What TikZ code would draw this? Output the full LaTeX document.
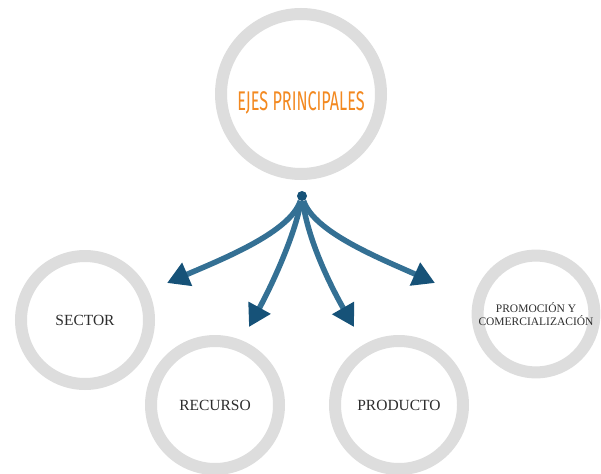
\documentclass[tikz,border=0pt]{standalone}
\usepackage{fontspec}
\usepackage{xcolor}
\usetikzlibrary{arrows.meta}
\setmainfont{Liberation Serif}
\newfontfamily\ejesfont{Fira Sans}[FakeStretch=0.6]
\definecolor{ringgray}{RGB}{221,221,221}
\definecolor{ejesorange}{RGB}{243,137,32}
\definecolor{arrowline}{RGB}{52,112,148}
\definecolor{arrowtip}{RGB}{22,82,120}
\definecolor{labelgray}{RGB}{45,45,45}

\begin{document}
\begin{tikzpicture}[
  x=1pt, y=-1pt,
  font=\fontsize{15.5}{17}\selectfont,
  ring/.style={circle, draw=ringgray, line width=12pt, fill=white, align=center, text=labelgray, inner sep=0pt},
  arr/.style={-{Triangle[length=22pt, width=24pt, color=arrowtip]}, line width=5.5pt, draw=arrowline},
  hubdot/.style={circle, fill=arrowtip, inner sep=0pt, minimum size=10pt}]
\useasboundingbox (0,0) rectangle (601,473);
% --- main circle ---
\node[ring, minimum size=160pt, font=\ejesfont\fontsize{27}{29}\selectfont, text=ejesorange] (ejes) at (301,94)
  {\raisebox{-17pt}[0pt][0pt]{EJES PRINCIPALES}};
\node[hubdot] (hub) at (302,196) {};
% --- axes ---
\node[ring, minimum size=128pt] (sector) at (85,320) {SECTOR};
\node[ring, minimum size=128pt] (recurso) at (215,405) {RECURSO};
\node[ring, minimum size=128pt] (producto) at (399,405) {PRODUCTO};
\node[ring, minimum size=116pt, font=\fontsize{11.5}{13}\selectfont] (promo) at (536,314)
  {PROMOCIÓN Y\\COMERCIALIZACIÓN};
% --- arrows ---
\coordinate (tipsector) at (167,283);
\coordinate (tiprecurso) at (249,327);
\coordinate (tipproducto) at (354,327);
\coordinate (tippromo) at (435,283);
\draw[arr] (hub) .. controls (290,232) and (225,258) .. (tipsector);
\draw[arr] (hub) .. controls (295,235) and (272,285) .. (tiprecurso);
\draw[arr] (hub) .. controls (308,240) and (330,285) .. (tipproducto);
\draw[arr] (hub) .. controls (314,232) and (379,258) .. (tippromo);
\end{tikzpicture}
\end{document}
